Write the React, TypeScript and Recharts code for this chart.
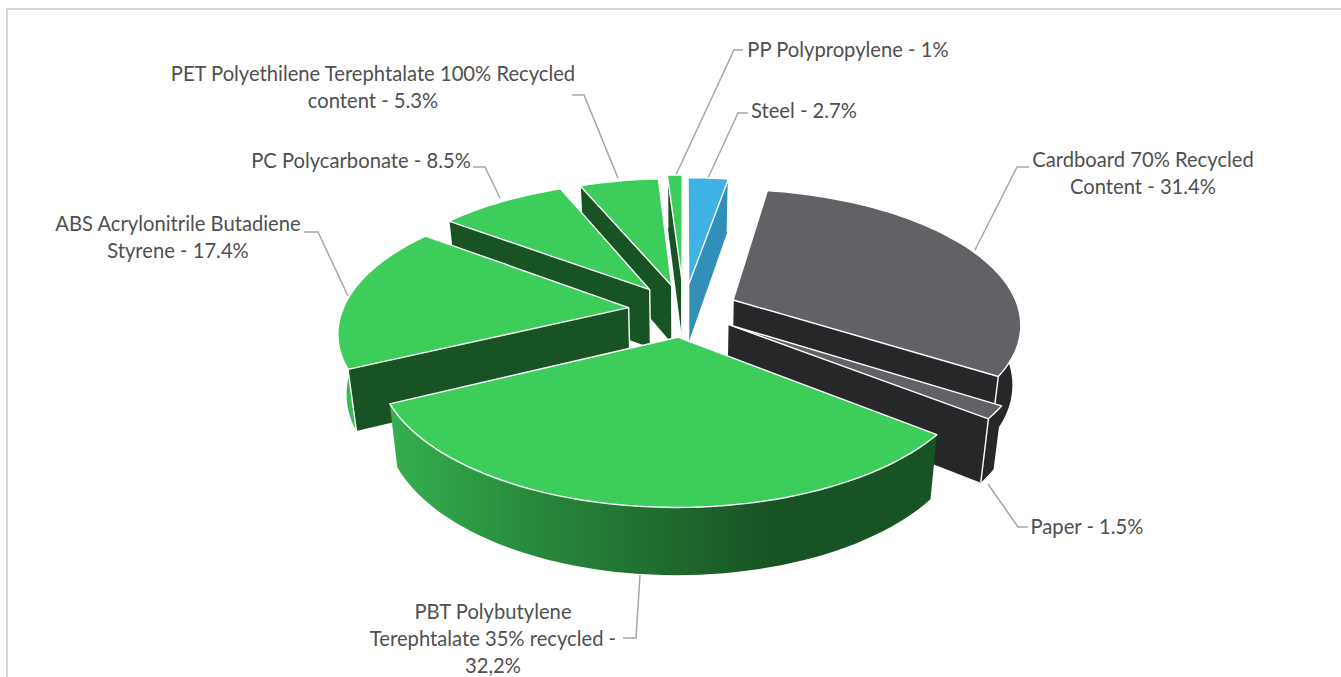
import React from 'react';
import { PieChart, Pie } from 'recharts';

const sliceNames = ['Steel', 'Cardboard', 'Paper', 'PBT', 'ABS', 'PC', 'PET', 'PP'];
const sliceValues = [2.7, 31.4, 1.5, 32.2, 17.4, 8.5, 5.3, 1];

// how far each slice is pulled out, share of the radius
const sliceExplode = [0.2, 0.19, 0.185, 0.2, 0.195, 0.2, 0.195, 0.23];
const topFills = ['#3EB1E5', '#616266', '#616266', '#3CCD5A', '#3CCD5A', '#3CCD5A', '#3CCD5A', '#3CCD5A'];
const wallFills = ['#318FB9', '#262729', '#262729', '#185324', '#185324', '#185324', '#185324', '#185324'];
const curveFills = ['#318FB9', '#262729', '#262729', 'url(#greenWall)', 'url(#greenWall)', '#185324', '#185324', '#185324'];
// painter's order, back to front
const drawOrder = [7, 6, 0, 5, 1, 4, 2, 3];

const rows = sliceNames.map((name, i) => ({ name, value: sliceValues[i] }));

const labelTexts = [
  { lines: ['PP Polypropylene - 1%'], x: 848, y: 50 },
  { lines: ['Steel - 2.7%'], x: 804, y: 111 },
  { lines: ['Cardboard 70% Recycled', 'Content - 31.4%'], x: 1143, y: 160 },
  { lines: ['Paper - 1.5%'], x: 1087, y: 527 },
  { lines: ['PBT Polybutylene', 'Terephtalate 35% recycled -', '32,2%'], x: 493, y: 612 },
  { lines: ['ABS Acrylonitrile Butadiene', 'Styrene - 17.4%'], x: 178, y: 224 },
  { lines: ['PC Polycarbonate - 8.5%'], x: 361, y: 161 },
  { lines: ['PET Polyethilene Terephtalate 100% Recycled', 'content - 5.3%'], x: 373, y: 74 },
];
const leaderLines = [
  '675,177 734,50 743,50',
  '708,178 738,113 748,113',
  '975,250 1017,167 1029,167',
  '988,484 1018,527 1028,527',
  '640,575 636,638 623,638',
  '348,296 318,232 304,232',
  '500,198 485,167 473,167',
  '618,178 584,95 572,95',
];

const PERSPECTIVE = 0.165;
const FLATTEN = 0.462;
const DEPTH = 59;
const BASE_SHRINK = 0.975;

const Slice = (props: any) => {
  const { cx, cy, outerRadius: R, startAngle, endAngle, index } = props;
  const rad = (a: number) => (a * Math.PI) / 180;
  const mid = rad((startAngle + endAngle) / 2);
  const ex = sliceExplode[index] * Math.cos(mid);
  const ey = sliceExplode[index] * Math.sin(mid);

  const place = (X: number, Y: number, base: boolean): [number, number] => {
    const p = 1 / (1 + PERSPECTIVE * Y);
    const x = cx + X * R * p * (base ? BASE_SHRINK : 1);
    const y = cy - FLATTEN * R * Y * p + (base ? DEPTH * (0.4 + 0.6 * p) : 0);
    return [x, y];
  };
  const rim = (a: number, base = false) => place(ex + Math.cos(rad(a)), ey + Math.sin(rad(a)), base);
  const apexTop = place(ex, ey, false);
  const apexBase = place(ex, ey, true);

  const arcAngles: number[] = [];
  const steps = Math.max(2, Math.ceil(Math.abs(startAngle - endAngle) / 2));
  for (let s = 0; s <= steps; s++) arcAngles.push(startAngle + ((endAngle - startAngle) * s) / steps);

  const toPath = (pts: [number, number][]) => 'M' + pts.map((q) => q[0].toFixed(1) + ' ' + q[1].toFixed(1)).join('L') + 'Z';
  const area = (pts: [number, number][]) =>
    pts.reduce((sum, q, i) => {
      const n = pts[(i + 1) % pts.length];
      return sum + q[0] * n[1] - n[0] * q[1];
    }, 0);

  const top = [apexTop, ...arcAngles.map((a) => rim(a))];
  const front = arcAngles.filter((a) => Math.sin(rad(a)) <= 0.02);
  const startWall = [apexTop, rim(startAngle), rim(startAngle, true), apexBase];
  const endWall = [apexTop, apexBase, rim(endAngle, true), rim(endAngle)];
  const edge = (a: [number, number], b: [number, number], key: string) => (
    <line key={key} x1={a[0]} y1={a[1]} x2={b[0]} y2={b[1]} stroke="#fff" strokeWidth={1.4} />
  );
  const walls: React.ReactNode[] = [];
  [
    { pts: startWall, angle: startAngle, sign: -1 },
    { pts: endWall, angle: endAngle, sign: -1 },
  ].forEach((w, i) => {
    if (area(w.pts) * w.sign <= 0) return;
    walls.push(<path key={'w' + i} d={toPath(w.pts)} fill={wallFills[index]} />);
    walls.push(edge(apexTop, apexBase, 'a' + i));
    walls.push(edge(rim(w.angle), rim(w.angle, true), 'r' + i));
  });

  return (
    <g>
      {front.length > 1 && (
        <path d={toPath([...front.map((a) => rim(a)), ...front.slice().reverse().map((a) => rim(a, true))])} fill={curveFills[index]} />
      )}
      {walls}
      <path d={toPath(top)} fill={topFills[index]} stroke="#fff" strokeWidth={1.4} strokeLinejoin="round" />
    </g>
  );
};

const sliceLayer = (i: number) => (props: any) => (props.index === i ? <Slice {...props} /> : <g />);

export default function App() {
  return (
    <div style={{ position: 'absolute', left: 0, top: 0, width: 1341, height: 677, overflow: 'hidden', background: '#fff' }}>
      <div style={{ position: 'absolute', left: 6, top: 8, width: 1400, height: 800, border: '2px solid #D9D9D9' }} />
      <div style={{ position: 'absolute', left: 0, top: 0 }}>
        <PieChart width={1341} height={677} margin={{ top: 0, right: 0, bottom: 0, left: 0 }}>
          <defs>
            <linearGradient id="greenWall" gradientUnits="userSpaceOnUse" x1={340} y1={0} x2={770} y2={0}>
              <stop offset="0%" stopColor="#39BD56" />
              <stop offset="45%" stopColor="#28893C" />
              <stop offset="100%" stopColor="#185324" />
            </linearGradient>
          </defs>
          {leaderLines.map((pts) => (
            <polyline key={pts} points={pts} fill="none" stroke="#A6A6A6" strokeWidth={1.5} />
          ))}
          {drawOrder.map((i) => {
            const layer = sliceLayer(i);
            return (
              <Pie
                key={sliceNames[i]}
                data={rows}
                dataKey="value"
                nameKey="name"
                cx={684}
                cy={310}
                innerRadius={0}
                outerRadius={286}
                startAngle={90}
                endAngle={-270}
                stroke="none"
                isAnimationActive={false}
                shape={layer}
                inactiveShape={layer}
                activeShape={layer}
              />
            );
          })}
          {labelTexts.map((l) => (
            <text key={l.lines[0]} textAnchor="middle" fontFamily="Lato" fontSize={20.2} fill="#505050">
              {l.lines.map((line, j) => (
                <tspan key={line} x={l.x} y={l.y + 7 + j * 27}>
                  {line}
                </tspan>
              ))}
            </text>
          ))}
        </PieChart>
      </div>
    </div>
  );
}
